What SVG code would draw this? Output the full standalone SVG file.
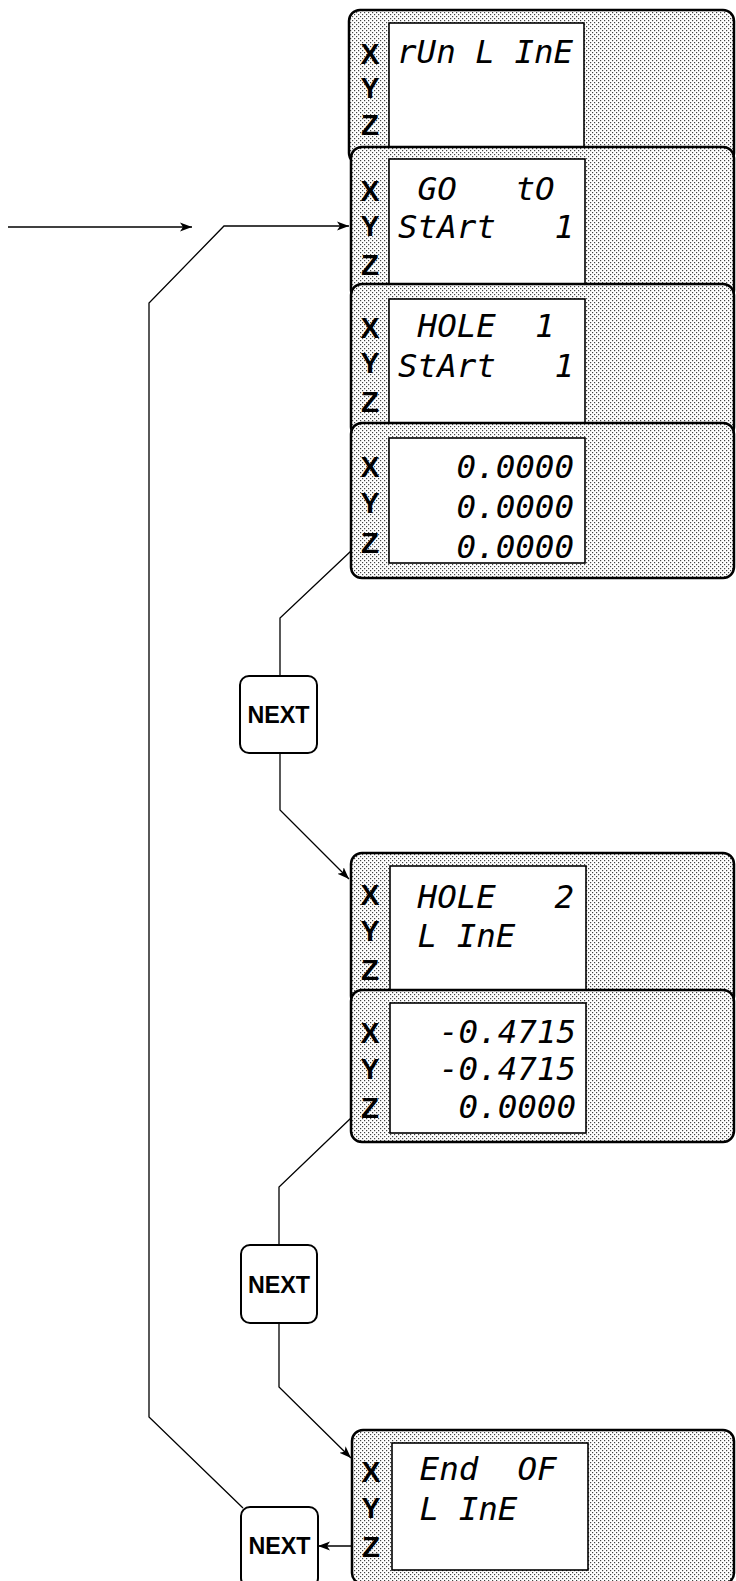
<svg xmlns="http://www.w3.org/2000/svg" width="736" height="1581" viewBox="0 0 736 1581">
  <style>
    .panel { stroke: #000; stroke-width: 2.5; fill: url(#stip); }
    .lcd { fill: #fff; stroke: #000; stroke-width: 1.6; }
    .axis { font-family: "Liberation Sans", Arial, sans-serif; font-weight: bold; font-size: 29px; fill: #000; text-anchor: middle; }
    .seg { font-family: "DejaVu Sans Mono", "Liberation Mono", monospace; font-style: italic; font-size: 32.5px; fill: #000; }
    .num { text-anchor: end; }
    .btn { fill: #fff; stroke: #000; stroke-width: 2; }
    .btxt { font-family: "Liberation Sans", Arial, sans-serif; font-weight: bold; font-size: 24px; fill: #000; text-anchor: middle; }
    .conn { fill: none; stroke: #000; stroke-width: 1.3; }
  </style>
  <defs>
    <pattern id="stip" width="4" height="4" patternUnits="userSpaceOnUse">
      <rect width="4" height="4" fill="#fff"/>
      <rect x="0" y="0" width="1.2" height="1.2" fill="#444"/>
      <rect x="2" y="2" width="1.2" height="1.2" fill="#444"/>
    </pattern>
    <marker id="arr" markerWidth="13" markerHeight="10" refX="12" refY="5" orient="auto" markerUnits="userSpaceOnUse">
      <path d="M0,0.5 L12,5 L0,9.5 L3,5 Z" fill="#000"/>
    </marker>
  </defs>

  <rect width="736" height="1581" fill="#fff"/>

  <g id="panel-run-line">
    <rect class="panel" x="349" y="10" width="385" height="154" rx="11"/>
    <rect class="lcd" x="389" y="23" width="195" height="128"/>
    <text class="axis" x="370" y="64" textLength="19" lengthAdjust="spacingAndGlyphs">X</text>
    <text class="axis" x="370" y="98" textLength="19" lengthAdjust="spacingAndGlyphs">Y</text>
    <text class="axis" x="370" y="135" textLength="18" lengthAdjust="spacingAndGlyphs">Z</text>
    <text class="seg" x="397" y="63" xml:space="preserve">rUn L InE</text>
  </g>

  <g id="panel-go-to-start">
    <rect class="panel" x="351" y="147" width="383" height="154" rx="11"/>
    <rect class="lcd" x="389" y="159" width="196" height="128"/>
    <text class="axis" x="370" y="201" textLength="19" lengthAdjust="spacingAndGlyphs">X</text>
    <text class="axis" x="370" y="236" textLength="19" lengthAdjust="spacingAndGlyphs">Y</text>
    <text class="axis" x="370" y="275" textLength="18" lengthAdjust="spacingAndGlyphs">Z</text>
    <text class="seg" x="398" y="200" xml:space="preserve"> GO   tO</text>
    <text class="seg" x="398" y="238" xml:space="preserve">StArt   1</text>
  </g>

  <g id="panel-hole1-start">
    <rect class="panel" x="351" y="284" width="383" height="154" rx="11"/>
    <rect class="lcd" x="389" y="299" width="196" height="128"/>
    <text class="axis" x="370" y="338" textLength="19" lengthAdjust="spacingAndGlyphs">X</text>
    <text class="axis" x="370" y="373" textLength="19" lengthAdjust="spacingAndGlyphs">Y</text>
    <text class="axis" x="370" y="412" textLength="18" lengthAdjust="spacingAndGlyphs">Z</text>
    <text class="seg" x="398" y="337" xml:space="preserve"> HOLE  1</text>
    <text class="seg" x="398" y="377" xml:space="preserve">StArt   1</text>
  </g>

  <g id="panel-pos1">
    <rect class="panel" x="351" y="423" width="383" height="155" rx="11"/>
    <rect class="lcd" x="389" y="438" width="196" height="125"/>
    <text class="axis" x="370" y="477" textLength="19" lengthAdjust="spacingAndGlyphs">X</text>
    <text class="axis" x="370" y="513" textLength="19" lengthAdjust="spacingAndGlyphs">Y</text>
    <text class="axis" x="370" y="553" textLength="18" lengthAdjust="spacingAndGlyphs">Z</text>
    <text class="seg num" x="574" y="478">0.0000</text>
    <text class="seg num" x="574" y="518">0.0000</text>
    <text class="seg num" x="574" y="558">0.0000</text>
  </g>

  <g id="next1">
    <rect class="btn" x="240" y="676" width="77" height="77" rx="9"/>
    <text class="btxt" x="278.5" y="723" textLength="62" lengthAdjust="spacingAndGlyphs">NEXT</text>
  </g>

  <g id="panel-hole2-line">
    <rect class="panel" x="351" y="853" width="383" height="154" rx="11"/>
    <rect class="lcd" x="390" y="866" width="196" height="128"/>
    <text class="axis" x="370" y="905" textLength="19" lengthAdjust="spacingAndGlyphs">X</text>
    <text class="axis" x="370" y="941" textLength="19" lengthAdjust="spacingAndGlyphs">Y</text>
    <text class="axis" x="370" y="980" textLength="18" lengthAdjust="spacingAndGlyphs">Z</text>
    <text class="seg" x="398" y="908" xml:space="preserve"> HOLE   2</text>
    <text class="seg" x="398" y="947" xml:space="preserve"> L InE</text>
  </g>

  <g id="panel-pos2">
    <rect class="panel" x="351" y="990" width="383" height="152" rx="11"/>
    <rect class="lcd" x="390" y="1003" width="196" height="130"/>
    <text class="axis" x="370" y="1043" textLength="19" lengthAdjust="spacingAndGlyphs">X</text>
    <text class="axis" x="370" y="1079" textLength="19" lengthAdjust="spacingAndGlyphs">Y</text>
    <text class="axis" x="370" y="1118" textLength="18" lengthAdjust="spacingAndGlyphs">Z</text>
    <text class="seg num" x="576" y="1043">-0.4715</text>
    <text class="seg num" x="576" y="1080">-0.4715</text>
    <text class="seg num" x="576" y="1118">0.0000</text>
  </g>

  <g id="next2">
    <rect class="btn" x="241" y="1245" width="76" height="78" rx="9"/>
    <text class="btxt" x="279" y="1293" textLength="62" lengthAdjust="spacingAndGlyphs">NEXT</text>
  </g>

  <g id="panel-end-of-line">
    <rect class="panel" x="352" y="1430" width="382" height="154" rx="11"/>
    <rect class="lcd" x="392" y="1443" width="196" height="127"/>
    <text class="axis" x="371" y="1482" textLength="19" lengthAdjust="spacingAndGlyphs">X</text>
    <text class="axis" x="371" y="1518" textLength="19" lengthAdjust="spacingAndGlyphs">Y</text>
    <text class="axis" x="371" y="1557" textLength="18" lengthAdjust="spacingAndGlyphs">Z</text>
    <text class="seg" x="400" y="1480" xml:space="preserve"> End  OF</text>
    <text class="seg" x="400" y="1520" xml:space="preserve"> L InE</text>
  </g>

  <g id="next3">
    <rect class="btn" x="241" y="1507" width="77" height="80" rx="9"/>
    <text class="btxt" x="279.5" y="1554" textLength="62" lengthAdjust="spacingAndGlyphs">NEXT</text>
  </g>

  <g id="connectors">
    <path class="conn" d="M8,227 L192,227" marker-end="url(#arr)"/>
    <path class="conn" d="M243,1508 L149,1417 L149,303 L224,226 L349,226" marker-end="url(#arr)"/>
    <path class="conn" d="M351,551 L280,618 L280,676"/>
    <path class="conn" d="M280,753 L280,810 L349,879" marker-end="url(#arr)"/>
    <path class="conn" d="M351,1118 L279,1187 L279,1245"/>
    <path class="conn" d="M279,1323 L279,1387 L351,1458" marker-end="url(#arr)"/>
    <path class="conn" d="M352,1546 L318,1546" marker-end="url(#arr)"/>
  </g>
</svg>
